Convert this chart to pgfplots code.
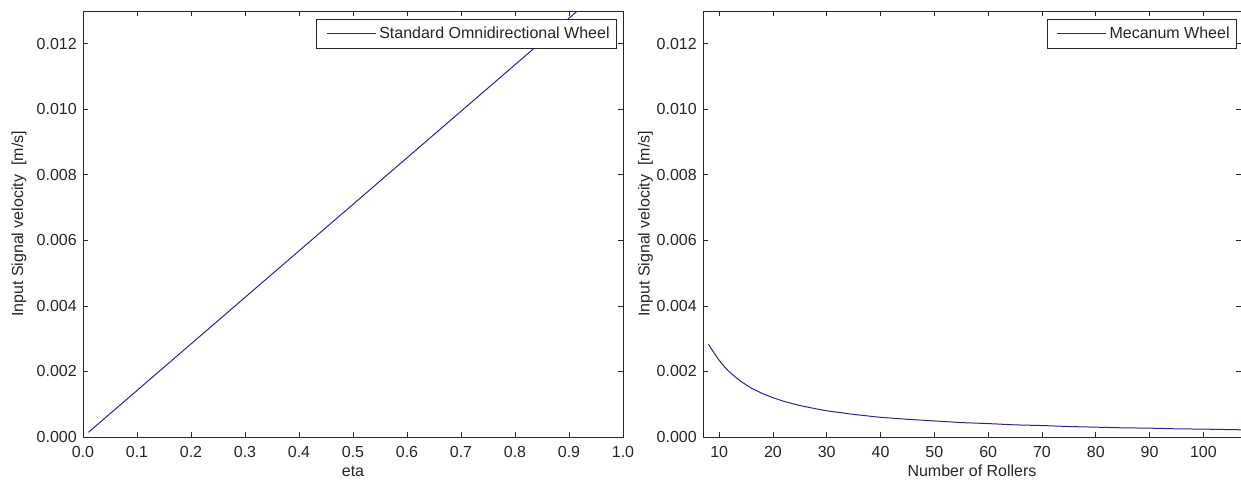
\documentclass[border=0pt]{standalone}
\usepackage{pgfplots}
\pgfplotsset{compat=1.18}
\usepackage{fontspec}
\setmainfont{Liberation Sans}

\definecolor{curveblue}{RGB}{38,38,150}

% Omnidirectional wheel: input signal velocity against eta
\pgfplotstableread{
eta    v
0.01   0.000142
0.10   0.00142
0.20   0.00284
0.30   0.00426
0.40   0.00568
0.50   0.00710
0.60   0.00852
0.70   0.00994
0.80   0.01136
0.90   0.01278
1.00   0.01420
}\omnidata

% Mecanum wheel: input signal velocity against the number of rollers
\pgfplotstableread{
n    v
8    0.00283
9    0.00258
10   0.00234
11   0.00214
12   0.00197
14   0.00170
16   0.00149
18   0.00133
20   0.00120
22   0.00109
25   0.00096
28   0.00086
30   0.00080
35   0.00069
40   0.00060
45   0.00054
50   0.00049
55   0.00044
60   0.00041
65   0.00037
70   0.00035
75   0.00032
80   0.00030
85   0.00028
90   0.00027
95   0.00025
100  0.00024
107  0.00022
}\mecdata

\pgfplotsset{
  panel/.style={
    scale only axis,
    height=319.5pt,
    ymin=0, ymax=0.013,
    ytick={0,0.002,0.004,0.006,0.008,0.010,0.012},
    scaled y ticks=false,
    scaled x ticks=false,
    yticklabel style={/pgf/number format/.cd,fixed,fixed zerofill,precision=3},
    tick align=inside,
    major tick length=4pt,
    axis line style={line width=0.6pt,black!85},
    every tick/.style={line width=0.6pt,black!85},
    /pgf/number format/assume math mode=true,
    tick label style={font=\fontsize{12}{14}\selectfont, text=black!85, inner sep=0pt},
    xticklabel shift=6.75pt,
    yticklabel shift=4.5pt,
    label style={font=\fontsize{12}{14}\selectfont, text=black!85},
    xlabel style={at={(axis description cs:0.5,0)}, anchor=base, yshift=-29.25pt},
    legend image code/.code={\path (0pt,0pt); \draw[#1] (4.25pt,0pt) -- (41pt,0pt);},
    legend cell align=left,
    legend style={
      draw=black!85, line width=0.6pt, fill=white,
      font=\fontsize{12}{14}\selectfont, text=black!85,
      inner xsep=3.25pt, inner ysep=5.25pt,
      nodes={inner xsep=2pt, inner ysep=0pt, text height=8.75pt, text depth=2.5pt},
      anchor=north east,
    },
  },
}

\begin{document}
\begin{tikzpicture}
\path[use as bounding box] (0pt,0pt) rectangle (930.75pt,362.25pt);

\begin{axis}[panel,
  at={(62.25pt,34.5pt)}, anchor=south west,
  width=405pt,
  xmin=0, xmax=1,
  xtick={0,0.1,0.2,0.3,0.4,0.5,0.6,0.7,0.8,0.9,1.0},
  xticklabel style={/pgf/number format/.cd,fixed,fixed zerofill,precision=1},
  xlabel={eta},
  ylabel={Input Signal velocity\ \ [m/s]},
  ylabel style={at={(axis description cs:-0.1185,0.5)}, anchor=center},
  legend style={at={(axis description cs:1,1)}, xshift=-4.5pt, yshift=-6pt},
]
\addplot[curveblue, line width=0.75pt] table[x=eta, y=v] {\omnidata};
\addlegendentry{Standard Omnidirectional Wheel}
\end{axis}

\begin{axis}[panel,
  at={(527.25pt,34.5pt)}, anchor=south west,
  width=403.5pt,
  xmin=7, xmax=107,
  xtick={10,20,30,40,50,60,70,80,90,100},
  xlabel={Number of Rollers},
  ylabel={Input Signal velocity\ \ [m/s]},
  ylabel style={at={(axis description cs:-0.107,0.5)}, anchor=center},
  legend style={at={(axis description cs:1,1)}, xshift=-3pt, yshift=-6pt},
]
\addplot[curveblue, line width=0.75pt] table[x=n, y=v] {\mecdata};
\addlegendentry{Mecanum Wheel}
\end{axis}
\end{tikzpicture}
\end{document}
